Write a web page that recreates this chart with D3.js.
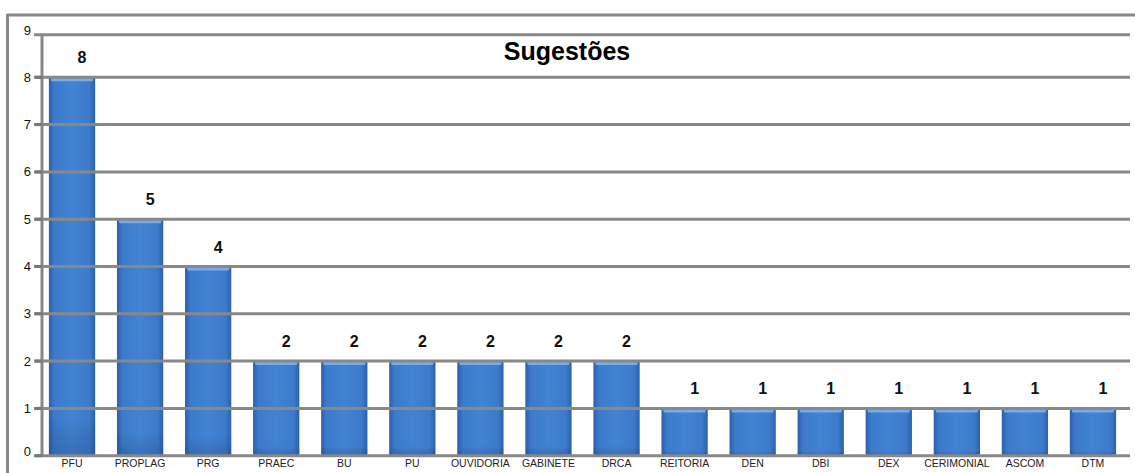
<!DOCTYPE html>
<html><head><meta charset="utf-8">
<script src="https://cdn.jsdelivr.net/npm/d3@7"></script>
<style>html,body{margin:0;padding:0;background:#fff}svg{display:block}</style>
</head><body>
<script>
const categories = ["PFU","PROPLAG","PRG","PRAEC","BU","PU","OUVIDORIA","GABINETE","DRCA","REITORIA","DEN","DBI","DEX","CERIMONIAL","ASCOM","DTM"];
const values = [8,5,4,2,2,2,2,2,2,1,1,1,1,1,1,1];
const yTicks = [0,1,2,3,4,5,6,7,8,9];
const title = "Sugestões";

const W = 1135, H = 473;
const svg = d3.select("body").append("svg").attr("width", W).attr("height", H);

const defs = svg.append("defs");
const g1 = defs.append("linearGradient").attr("id","barH").attr("x1","0").attr("x2","1").attr("y1","0").attr("y2","0");
[[0,"#2d60a8"],[0.12,"#3c7acb"],[0.5,"#4383d4"],[0.88,"#3c7acb"],[1,"#2d60a8"]].forEach(([o,c])=>g1.append("stop").attr("offset",o).attr("stop-color",c));
const g2 = defs.append("linearGradient").attr("id","barV").attr("x1","0").attr("x2","0").attr("y1","0").attr("y2","1");
[[0,"#000",0],[0.9,"#000",0],[1,"#0a2350",0.18]].forEach(([o,c,a])=>g2.append("stop").attr("offset",o).attr("stop-color",c).attr("stop-opacity",a));

const x = d3.scaleBand().domain(categories).range([38, 1127]).paddingInner(0.32).paddingOuter(0.16);
const y = d3.scaleLinear().domain([0, 9]).range([455.7, 30]);

const gridColor = "#888888";
const font = "Liberation Sans, Arial, sans-serif";

// outer frame
svg.append("line").attr("x1",7).attr("x2",W).attr("y1",15).attr("y2",15).attr("stroke",gridColor).attr("stroke-width",3);
svg.append("line").attr("x1",7.5).attr("x2",7.5).attr("y1",14).attr("y2",H).attr("stroke",gridColor).attr("stroke-width",3);

// bars
const bars = svg.append("g");
bars.selectAll("rect.bar").data(values).join("rect").attr("class","bar")
  .attr("x",(d,i)=>x(categories[i])).attr("width",x.bandwidth())
  .attr("y",d=>y(d)).attr("height",d=>y(0)-y(d))
  .attr("rx",2).attr("fill","url(#barH)");
bars.selectAll("rect.shade").data(values).join("rect").attr("class","shade")
  .attr("x",(d,i)=>x(categories[i])).attr("width",x.bandwidth())
  .attr("y",d=>y(d)).attr("height",d=>y(0)-y(d))
  .attr("fill","url(#barV)");
bars.selectAll("rect.hl").data(values).join("rect").attr("class","hl")
  .attr("x",(d,i)=>x(categories[i])+2).attr("width",x.bandwidth()-4)
  .attr("y",d=>y(d)+1).attr("height",3).attr("rx",1.5)
  .attr("fill","#7fb0ee").attr("opacity",0.9);

// gridlines (values 1..8) plus top frame of plot, drawn over bars
const plotTop = y(8.9);
svg.append("line").attr("x1",34).attr("x2",1130).attr("y1",plotTop).attr("y2",plotTop).attr("stroke",gridColor).attr("stroke-width",3);
svg.selectAll("line.grid").data(yTicks.filter(v=>v>0 && v<9)).join("line").attr("class","grid")
  .attr("x1",34).attr("x2",1130).attr("y1",d=>y(d)).attr("y2",d=>y(d))
  .attr("stroke",gridColor).attr("stroke-width",3);

// y labels
svg.selectAll("text.ytick").data(yTicks).join("text").attr("class","ytick")
  .attr("x",31).attr("y",d=>Math.min(y(d)-4, y(0)-8)+4)
  .attr("dy","0.35em").attr("text-anchor","end")
  .attr("font-family",font).attr("font-size",13).attr("fill","#111")
  .text(d=>d);

// left axis line and x axis line
svg.append("line").attr("x1",42).attr("x2",42).attr("y1",plotTop).attr("y2",y(0)+1).attr("stroke",gridColor).attr("stroke-width",3);
svg.append("line").attr("x1",34).attr("x2",1130).attr("y1",y(0)).attr("y2",y(0)).attr("stroke",gridColor).attr("stroke-width",3);
svg.selectAll("line.tk").data(yTicks.filter(v=>v<9)).join("line").attr("class","tk")
  .attr("x1",35).attr("x2",42).attr("y1",d=>y(d)).attr("y2",d=>y(d)).attr("stroke","#777").attr("stroke-width",3);

// value labels
svg.selectAll("text.val").data(values).join("text").attr("class","val")
  .attr("x",(d,i)=>x(categories[i])+x.bandwidth()/2+10).attr("y",d=>y(d)-14)
  .attr("text-anchor","middle").attr("font-family",font)
  .attr("font-weight","bold").attr("font-size",16).attr("fill","#111").text(d=>d);

// category labels
svg.selectAll("text.cat").data(categories).join("text").attr("class","cat")
  .attr("x",d=>x(d)+x.bandwidth()/2).attr("y",467)
  .attr("text-anchor","middle").attr("font-family",font)
  .attr("font-size",10.5).attr("fill","#222").text(d=>d);

// title
svg.append("text").attr("x",567).attr("y",60).attr("text-anchor","middle")
  .attr("font-family",font).attr("font-weight","bold")
  .attr("font-size",25).attr("fill","#000").text(title);
</script>
</body></html>
